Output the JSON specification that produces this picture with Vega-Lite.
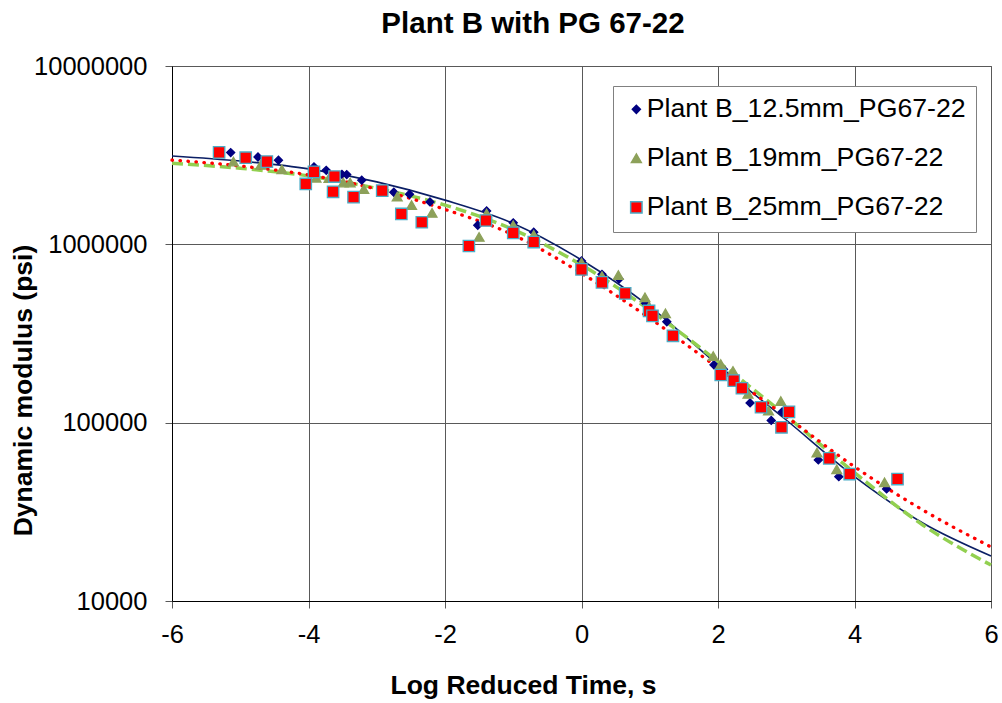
{
  "$schema": "https://vega.github.io/schema/vega-lite/v6.json",
  "width": 819,
  "height": 535,
  "autosize": {"type": "none"},
  "padding": {"left": 172, "top": 66, "right": 11, "bottom": 102},
  "background": "white",
  "config": {
    "font": "Liberation Sans",
    "view": {"stroke": "#595959", "strokeWidth": 1},
    "axis": {
      "domainColor": "black",
      "domainWidth": 1,
      "gridColor": "#595959",
      "gridOpacity": 1,
      "gridWidth": 1,
      "tickColor": "#595959",
      "tickSize": 7,
      "labelFont": "Liberation Sans",
      "labelFontSize": 25.5,
      "labelColor": "black",
      "titleFont": "Liberation Sans",
      "titleFontSize": 26.5,
      "titleFontWeight": "bold",
      "titleColor": "black"
    }
  },
  "title": {
    "text": "Plant B with PG 67-22",
    "font": "Liberation Sans",
    "fontSize": 29.5,
    "fontWeight": "bold",
    "color": "black",
    "anchor": "middle",
    "dx": -48.5,
    "dy": -11
  },
  "datasets": {
    "fits": [
      {"fit": "A", "t": -6, "E": 3130000}, {"fit": "A", "t": -5, "E": 2930000}, {"fit": "A", "t": -4, "E": 2650000},
      {"fit": "A", "t": -3, "E": 2240000}, {"fit": "A", "t": -2, "E": 1770000}, {"fit": "A", "t": -1, "E": 1310000},
      {"fit": "A", "t": 0, "E": 817000}, {"fit": "A", "t": 1, "E": 447000}, {"fit": "A", "t": 2, "E": 211000},
      {"fit": "A", "t": 3, "E": 103500}, {"fit": "A", "t": 4, "E": 49800}, {"fit": "A", "t": 5, "E": 27400},
      {"fit": "A", "t": 6, "E": 17900},
      {"fit": "B", "t": -6, "E": 2850000}, {"fit": "B", "t": -5, "E": 2670000}, {"fit": "B", "t": -4, "E": 2420000},
      {"fit": "B", "t": -3, "E": 2060000}, {"fit": "B", "t": -2, "E": 1660000}, {"fit": "B", "t": -1, "E": 1210000},
      {"fit": "B", "t": 0, "E": 766000}, {"fit": "B", "t": 1, "E": 428000}, {"fit": "B", "t": 2, "E": 220000},
      {"fit": "B", "t": 3, "E": 109000}, {"fit": "B", "t": 4, "E": 52400}, {"fit": "B", "t": 5, "E": 26700},
      {"fit": "B", "t": 6, "E": 15900},
      {"fit": "C", "t": -6, "E": 2970000}, {"fit": "C", "t": -5, "E": 2750000}, {"fit": "C", "t": -4, "E": 2450000},
      {"fit": "C", "t": -3, "E": 2040000}, {"fit": "C", "t": -2, "E": 1570000}, {"fit": "C", "t": -1, "E": 1130000},
      {"fit": "C", "t": 0, "E": 688000}, {"fit": "C", "t": 1, "E": 385000}, {"fit": "C", "t": 2, "E": 203000},
      {"fit": "C", "t": 3, "E": 108000}, {"fit": "C", "t": 4, "E": 56600}, {"fit": "C", "t": 5, "E": 32400},
      {"fit": "C", "t": 6, "E": 20100}
    ],
    "points": [
      {"series": "Plant B_12.5mm_PG67-22", "t": -5.14, "E": 3270000},
      {"series": "Plant B_12.5mm_PG67-22", "t": -4.74, "E": 3090000},
      {"series": "Plant B_12.5mm_PG67-22", "t": -4.44, "E": 2960000},
      {"series": "Plant B_12.5mm_PG67-22", "t": -3.92, "E": 2720000},
      {"series": "Plant B_12.5mm_PG67-22", "t": -3.74, "E": 2600000},
      {"series": "Plant B_12.5mm_PG67-22", "t": -3.51, "E": 2470000},
      {"series": "Plant B_12.5mm_PG67-22", "t": -3.44, "E": 2460000},
      {"series": "Plant B_12.5mm_PG67-22", "t": -3.22, "E": 2290000},
      {"series": "Plant B_12.5mm_PG67-22", "t": -2.75, "E": 1960000},
      {"series": "Plant B_12.5mm_PG67-22", "t": -2.52, "E": 1910000},
      {"series": "Plant B_12.5mm_PG67-22", "t": -2.22, "E": 1730000},
      {"series": "Plant B_12.5mm_PG67-22", "t": -1.52, "E": 1280000},
      {"series": "Plant B_12.5mm_PG67-22", "t": -1.39, "E": 1540000},
      {"series": "Plant B_12.5mm_PG67-22", "t": -1.0, "E": 1320000},
      {"series": "Plant B_12.5mm_PG67-22", "t": -0.7, "E": 1170000},
      {"series": "Plant B_12.5mm_PG67-22", "t": 0.0, "E": 806000},
      {"series": "Plant B_12.5mm_PG67-22", "t": 0.3, "E": 679000},
      {"series": "Plant B_12.5mm_PG67-22", "t": 0.55, "E": 639000},
      {"series": "Plant B_12.5mm_PG67-22", "t": 0.94, "E": 467000},
      {"series": "Plant B_12.5mm_PG67-22", "t": 1.25, "E": 368000},
      {"series": "Plant B_12.5mm_PG67-22", "t": 1.94, "E": 211000},
      {"series": "Plant B_12.5mm_PG67-22", "t": 2.08, "E": 199000},
      {"series": "Plant B_12.5mm_PG67-22", "t": 2.47, "E": 129000},
      {"series": "Plant B_12.5mm_PG67-22", "t": 2.78, "E": 103000},
      {"series": "Plant B_12.5mm_PG67-22", "t": 2.94, "E": 115000},
      {"series": "Plant B_12.5mm_PG67-22", "t": 3.47, "E": 61800},
      {"series": "Plant B_12.5mm_PG67-22", "t": 3.77, "E": 49800},
      {"series": "Plant B_12.5mm_PG67-22", "t": 4.47, "E": 42500},
      {"series": "Plant B_19mm_PG67-22", "t": -5.1, "E": 2910000},
      {"series": "Plant B_19mm_PG67-22", "t": -4.7, "E": 2790000},
      {"series": "Plant B_19mm_PG67-22", "t": -4.39, "E": 2630000},
      {"series": "Plant B_19mm_PG67-22", "t": -3.89, "E": 2360000},
      {"series": "Plant B_19mm_PG67-22", "t": -3.7, "E": 2350000},
      {"series": "Plant B_19mm_PG67-22", "t": -3.49, "E": 2220000},
      {"series": "Plant B_19mm_PG67-22", "t": -3.39, "E": 2220000},
      {"series": "Plant B_19mm_PG67-22", "t": -3.19, "E": 2040000},
      {"series": "Plant B_19mm_PG67-22", "t": -2.7, "E": 1850000},
      {"series": "Plant B_19mm_PG67-22", "t": -2.49, "E": 1660000},
      {"series": "Plant B_19mm_PG67-22", "t": -2.19, "E": 1500000},
      {"series": "Plant B_19mm_PG67-22", "t": -1.5, "E": 1100000},
      {"series": "Plant B_19mm_PG67-22", "t": -1.39, "E": 1490000},
      {"series": "Plant B_19mm_PG67-22", "t": -1.0, "E": 1280000},
      {"series": "Plant B_19mm_PG67-22", "t": -0.7, "E": 1130000},
      {"series": "Plant B_19mm_PG67-22", "t": 0.0, "E": 789000},
      {"series": "Plant B_19mm_PG67-22", "t": 0.3, "E": 664000},
      {"series": "Plant B_19mm_PG67-22", "t": 0.54, "E": 673000},
      {"series": "Plant B_19mm_PG67-22", "t": 0.93, "E": 505000},
      {"series": "Plant B_19mm_PG67-22", "t": 0.99, "E": 447000},
      {"series": "Plant B_19mm_PG67-22", "t": 1.23, "E": 410000},
      {"series": "Plant B_19mm_PG67-22", "t": 1.93, "E": 236000},
      {"series": "Plant B_19mm_PG67-22", "t": 2.04, "E": 213000},
      {"series": "Plant B_19mm_PG67-22", "t": 2.22, "E": 195000},
      {"series": "Plant B_19mm_PG67-22", "t": 2.44, "E": 145000},
      {"series": "Plant B_19mm_PG67-22", "t": 2.74, "E": 117000},
      {"series": "Plant B_19mm_PG67-22", "t": 2.92, "E": 132000},
      {"series": "Plant B_19mm_PG67-22", "t": 3.45, "E": 67900},
      {"series": "Plant B_19mm_PG67-22", "t": 3.74, "E": 54700},
      {"series": "Plant B_19mm_PG67-22", "t": 4.44, "E": 46300},
      {"series": "Plant B_25mm_PG67-22", "t": -5.31, "E": 3280000},
      {"series": "Plant B_25mm_PG67-22", "t": -4.92, "E": 3060000},
      {"series": "Plant B_25mm_PG67-22", "t": -4.61, "E": 2910000},
      {"series": "Plant B_25mm_PG67-22", "t": -4.04, "E": 2180000},
      {"series": "Plant B_25mm_PG67-22", "t": -3.92, "E": 2550000},
      {"series": "Plant B_25mm_PG67-22", "t": -3.64, "E": 1970000},
      {"series": "Plant B_25mm_PG67-22", "t": -3.62, "E": 2400000},
      {"series": "Plant B_25mm_PG67-22", "t": -3.34, "E": 1840000},
      {"series": "Plant B_25mm_PG67-22", "t": -2.92, "E": 2000000},
      {"series": "Plant B_25mm_PG67-22", "t": -2.64, "E": 1480000},
      {"series": "Plant B_25mm_PG67-22", "t": -2.34, "E": 1330000},
      {"series": "Plant B_25mm_PG67-22", "t": -1.65, "E": 979000},
      {"series": "Plant B_25mm_PG67-22", "t": -1.4, "E": 1360000},
      {"series": "Plant B_25mm_PG67-22", "t": -1.0, "E": 1160000},
      {"series": "Plant B_25mm_PG67-22", "t": -0.7, "E": 1030000},
      {"series": "Plant B_25mm_PG67-22", "t": 0.0, "E": 724000},
      {"series": "Plant B_25mm_PG67-22", "t": 0.3, "E": 612000},
      {"series": "Plant B_25mm_PG67-22", "t": 0.64, "E": 531000},
      {"series": "Plant B_25mm_PG67-22", "t": 0.99, "E": 423000},
      {"series": "Plant B_25mm_PG67-22", "t": 1.04, "E": 397000},
      {"series": "Plant B_25mm_PG67-22", "t": 1.34, "E": 307000},
      {"series": "Plant B_25mm_PG67-22", "t": 2.04, "E": 185000},
      {"series": "Plant B_25mm_PG67-22", "t": 2.23, "E": 172000},
      {"series": "Plant B_25mm_PG67-22", "t": 2.35, "E": 156000},
      {"series": "Plant B_25mm_PG67-22", "t": 2.63, "E": 122000},
      {"series": "Plant B_25mm_PG67-22", "t": 2.93, "E": 94200},
      {"series": "Plant B_25mm_PG67-22", "t": 3.04, "E": 115000},
      {"series": "Plant B_25mm_PG67-22", "t": 3.63, "E": 63100},
      {"series": "Plant B_25mm_PG67-22", "t": 3.93, "E": 51500},
      {"series": "Plant B_25mm_PG67-22", "t": 4.63, "E": 48300}
    ]
  },
  "encoding": {
    "x": {
      "field": "t", "type": "quantitative",
      "scale": {"domain": [-6, 6], "nice": false, "zero": false},
      "axis": {
        "values": [-6, -4, -2, 0, 2, 4, 6],
        "labelExpr": "datum.value < 0 ? '-' + abs(datum.value) : '' + datum.value",
        "title": "Log Reduced Time, s",
        "grid": true,
        "labelFlush": false,
        "labelOverlap": false,
        "labelPadding": 14,
        "titleX": 351,
        "titleY": 84,
        "titleBaseline": "middle"
      }
    },
    "y": {
      "field": "E", "type": "quantitative",
      "scale": {"type": "log", "domain": [10000, 10000000], "nice": false},
      "axis": {
        "values": [10000, 100000, 1000000, 10000000],
        "format": "d",
        "title": "Dynamic modulus (psi)",
        "grid": true,
        "labelPadding": 18,
        "labelOverlap": false,
        "titleX": -149,
        "titleY": 324,
        "titleAngle": -90,
        "titleBaseline": "middle",
        "titleAlign": "center"
      }
    }
  },
  "layer": [
    {
      "data": {"name": "fits"},
      "transform": [{"filter": "datum.fit === 'A'"}],
      "mark": {"type": "line", "color": "#0b1f65", "strokeWidth": 1.6, "interpolate": "monotone"}
    },
    {
      "data": {"name": "fits"},
      "transform": [{"filter": "datum.fit === 'B'"}],
      "mark": {"type": "line", "color": "#92D050", "strokeWidth": 3.5, "strokeDash": [11, 5], "interpolate": "monotone"}
    },
    {
      "data": {"name": "fits"},
      "transform": [{"filter": "datum.fit === 'C'"}],
      "mark": {"type": "line", "color": "#FF0000", "strokeWidth": 3.3, "strokeDash": [0.5, 7.5], "strokeCap": "round", "interpolate": "monotone"}
    },
    {
      "data": {"name": "points"},
      "mark": {"type": "point", "filled": true, "opacity": 1, "strokeWidth": 1.3, "strokeOpacity": 1},
      "encoding": {
        "color": {
          "field": "series", "type": "nominal",
          "scale": {"domain": ["Plant B_12.5mm_PG67-22", "Plant B_19mm_PG67-22", "Plant B_25mm_PG67-22"], "range": ["#000080", "#8DA15A", "#FF0000"]},
          "legend": {
            "title": null,
            "orient": "none",
            "legendX": 441,
            "legendY": 20,
            "labelFont": "Liberation Sans",
            "labelFontSize": 26.7,
            "labelColor": "black",
            "labelLimit": 0,
            "labelOffset": -3,
            "padding": 10,
            "rowPadding": 21,
            "symbolSize": 60,
            "symbolOffset": 0,
            "strokeColor": "#808080",
            "fillColor": "white",
            "cornerRadius": 0
          }
        },
        "shape": {
          "field": "series", "type": "nominal",
          "scale": {"domain": ["Plant B_12.5mm_PG67-22", "Plant B_19mm_PG67-22", "Plant B_25mm_PG67-22"], "range": ["diamond", "triangle-up", "square"]}
        },
        "size": {
          "field": "series", "type": "nominal",
          "scale": {"domain": ["Plant B_12.5mm_PG67-22", "Plant B_19mm_PG67-22", "Plant B_25mm_PG67-22"], "range": [64, 130, 80]},
          "legend": null
        },
        "stroke": {
          "field": "series", "type": "nominal",
          "scale": {"domain": ["Plant B_12.5mm_PG67-22", "Plant B_19mm_PG67-22", "Plant B_25mm_PG67-22"], "range": ["#000080", "#8DA15A", "#4BACC6"]}
        }
      }
    }
  ]
}
